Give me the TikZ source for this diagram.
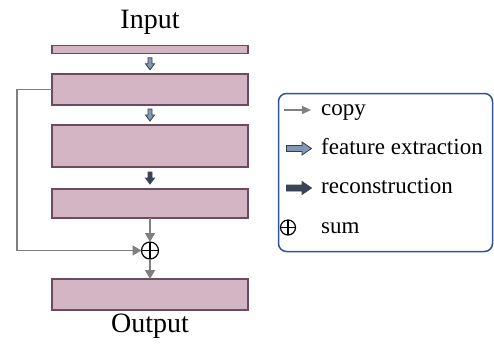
\documentclass[tikz,border=0pt]{standalone}
\usepackage{fontspec}
\setmainfont{Liberation Serif}
\usetikzlibrary{arrows.meta,calc}
\definecolor{boxfill}{HTML}{D3B5C3}
\definecolor{boxline}{HTML}{6F4A5E}
\definecolor{copygray}{HTML}{7F7F7F}
\definecolor{fefill}{HTML}{8497B0}
\definecolor{feline}{HTML}{333F50}
\definecolor{recfill}{HTML}{3A4454}
\definecolor{legline}{HTML}{2F5597}
\tikzset{
  layerbox/.style={draw=boxline, fill=boxfill, line width=1.4pt, minimum width=196pt, inner sep=0pt, outer sep=0pt},
  copyarrow/.style={draw=copygray, line width=1.6pt, -{Triangle[length=9pt,width=10pt]}},
  featstyle/.style={draw=feline, fill=fefill, line width=0.8pt, line join=miter},
  recstyle/.style={draw=recfill, fill=recfill, line width=0.8pt, line join=miter},
  sumcirc/.style={circle, draw=black, line width=1.2pt, minimum size=17pt, inner sep=0pt, outer sep=0pt,
    path picture={\draw[line width=1.2pt] (path picture bounding box.north) -- (path picture bounding box.south) (path picture bounding box.west) -- (path picture bounding box.east);}},
  titletext/.style={font=\fontsize{28}{32}\selectfont, inner sep=0pt, anchor=base},
  legtext/.style={font=\fontsize{23}{27}\selectfont, inner sep=0pt, anchor=base west},
}
% small downward block arrow centred on a coordinate
\newcommand{\downblock}[2]{\draw[#1, shift={(#2)}] (-2,-6) -- (2,-6) -- (2,0) -- (4.5,0) -- (0,6) -- (-4.5,0) -- (-2,0) -- cycle;}
% legend rightward block arrow centred on a coordinate
\newcommand{\rightblock}[2]{\draw[#1, shift={(#2)}] (-12.5,-3) -- (3,-3) -- (3,-6.5) -- (12.5,0) -- (3,6.5) -- (3,3) -- (-12.5,3) -- cycle;}
\begin{document}
\begin{tikzpicture}[x=1pt,y=-1pt]
\useasboundingbox (0,0) rectangle (494,349);
% title texts
\node[titletext] (in) at (150,28.5) {Input};
\node[titletext] (out) at (150,332) {Output};
% layers
\node[layerbox, minimum height=8pt] (b1) at (150,49.5) {};
\node[layerbox, minimum height=31pt] (b2) at (150,89.5) {};
\node[layerbox, minimum height=42pt] (b3) at (150,146) {};
\node[layerbox, minimum height=29pt] (b4) at (150,203.5) {};
\node[layerbox, minimum height=31pt] (b5) at (150,294.5) {};
\node[sumcirc] (sum) at (150,250.5) {};
% block arrows between layers
\coordinate (a1) at ($(b1.south)!0.5!(b2.north)$);
\coordinate (a2) at ($(b2.south)!0.5!(b3.north)$);
\coordinate (a3) at ($(b3.south)!0.5!(b4.north)$);
\downblock{featstyle}{a1}
\downblock{featstyle}{a2}
\downblock{recstyle}{a3}
% copy connectors
\draw[copyarrow, line width=1.4pt] (b2.west) -- ++(-35,0) |- (sum.west);
\draw[copyarrow] (b4.south) -- (sum.north);
\draw[copyarrow] (sum.south) -- (b5.north);
% legend
\node[draw=legline, line width=1.5pt, rounded corners=8pt, minimum width=214pt, minimum height=158pt, inner sep=0pt] (leg) at (385.5,172.5) {};
\coordinate (c1) at (284,110);
\coordinate (c2) at (311,110);
\draw[copyarrow, line width=1.3pt, -{Triangle[length=9pt,width=8pt]}] (c1) -- (c2);
\node[legtext] (t1) at (321,115.5) {copy};
\coordinate (l2) at (299,148.5);
\rightblock{featstyle}{l2}
\node[legtext] (t2) at (321,154) {feature extraction};
\coordinate (l3) at (299,188);
\rightblock{recstyle}{l3}
\node[legtext] (t3) at (321,193.5) {reconstruction};
\node[sumcirc, minimum size=15pt] (l4) at (288,227.5) {};
\node[legtext] (t4) at (321,233) {sum};
\end{tikzpicture}
\end{document}
